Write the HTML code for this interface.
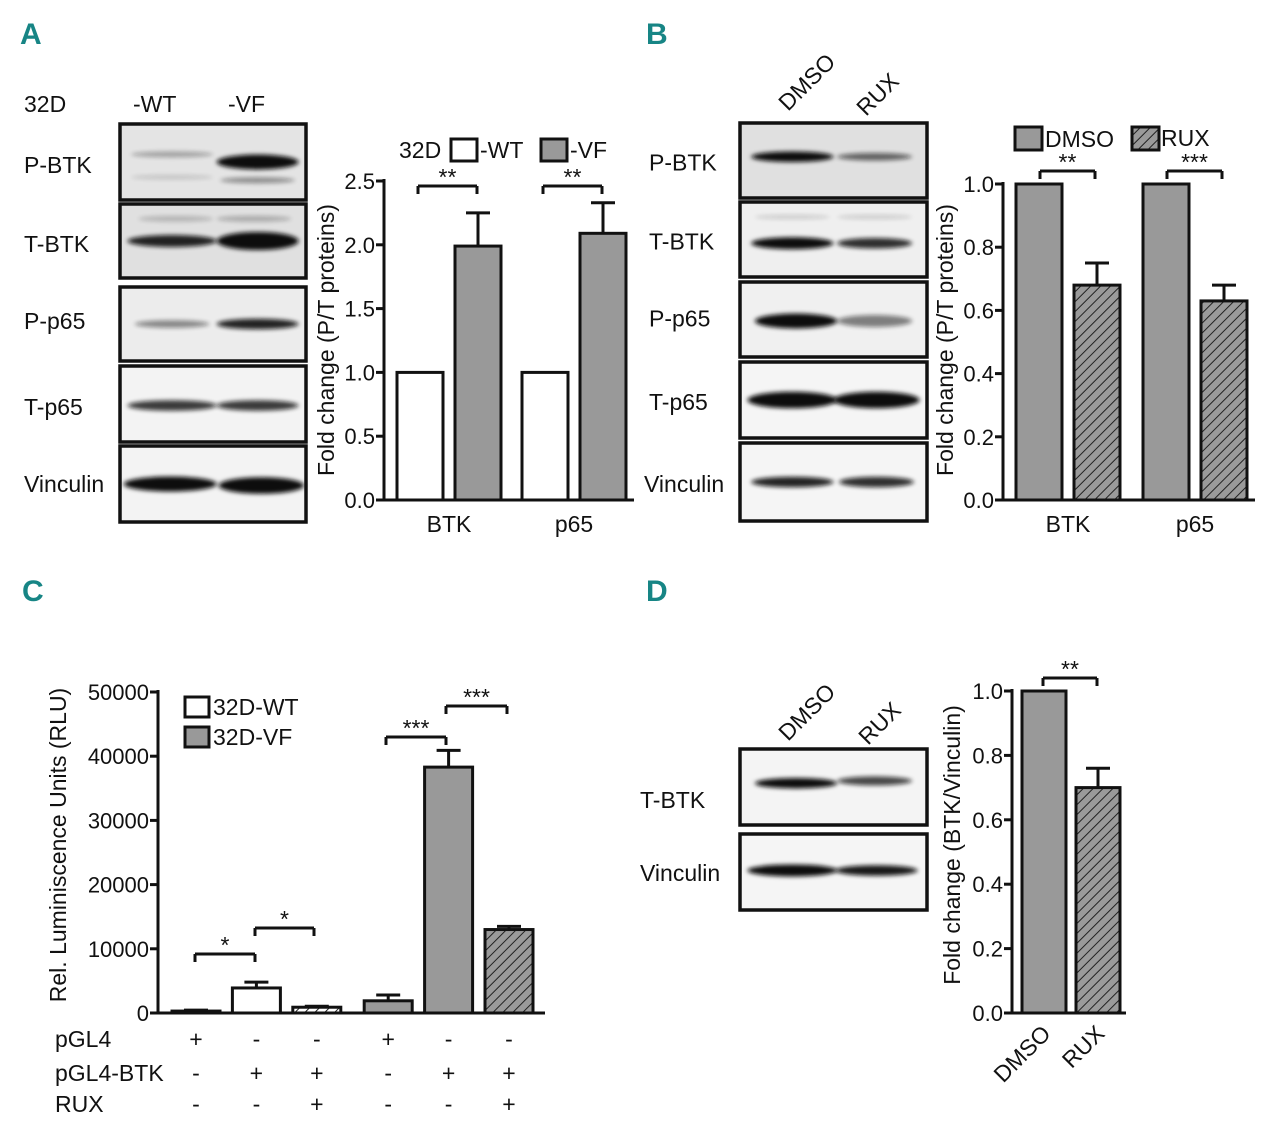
<!DOCTYPE html>
<html><head><meta charset="utf-8"><style>
body{margin:0;background:#fff}
svg{display:block;font-family:"Liberation Sans",sans-serif}
.t{font-size:23px;fill:#111}
.tk{font-size:22px;fill:#111}
.pl{font-family:"Liberation Sans",sans-serif;font-weight:bold;font-size:30px;fill:#178585}
</style></head><body>
<svg id="fig" width="1280" height="1131" viewBox="0 0 1280 1131">
<defs>
<pattern id="hatch" patternUnits="userSpaceOnUse" width="7" height="7" patternTransform="rotate(45)">
<rect width="7" height="7" fill="#9a9a9a"/><line x1="0" y1="0" x2="0" y2="7" stroke="#222" stroke-width="2"/></pattern>
<pattern id="hatchw" patternUnits="userSpaceOnUse" width="7" height="7" patternTransform="rotate(45)">
<rect width="7" height="7" fill="#fff"/><line x1="0" y1="0" x2="0" y2="7" stroke="#222" stroke-width="2"/></pattern>
<filter id="blur" x="-20%" y="-100%" width="140%" height="300%"><feGaussianBlur stdDeviation="2.5 2.2"/></filter>
</defs>
<text class="pl" x="20" y="44">A</text>
<text class="pl" x="646" y="44">B</text>
<text class="pl" x="22" y="601">C</text>
<text class="pl" x="646" y="601">D</text>
<g id="root"></g>
</svg>
<script>
// ---- Panel A data ----
const aCategories = ["BTK", "p65"];
const aWT = [1.0, 1.0];
const aVF = [1.99, 2.09];
const aVFerr = [0.26, 0.24];
const aTicks = ["0.0","0.5","1.0","1.5","2.0","2.5"];
// ---- Panel B data ----
const bCategories = ["BTK", "p65"];
const bDMSO = [1.0, 1.0];
const bRUX = [0.68, 0.63];
const bRUXerr = [0.07, 0.05];
const bTicks = ["0.0","0.2","0.4","0.6","0.8","1.0"];
// ---- Panel C data ----
const cValues = [300, 3900, 900, 1900, 38300, 13000];
const cErr = [150, 900, 150, 900, 2600, 500];
const cTicks = ["0","10000","20000","30000","40000","50000"];
const cPGL4 = ["+","-","-","+","-","-"];
const cPGL4BTK = ["-","+","+","-","+","+"];
const cRUX = ["-","-","+","-","-","+"];
// ---- Panel D data ----
const dCategories = ["DMSO", "RUX"];
const dValues = [1.0, 0.70];
const dErr = [0, 0.06];
const dTicks = ["0.0","0.2","0.4","0.6","0.8","1.0"];

const NS="http://www.w3.org/2000/svg";
const root=document.getElementById('root');
function mk(tag,attrs,parent,text){const e=document.createElementNS(NS,tag);for(const k in attrs)e.setAttribute(k,attrs[k]);if(text!==undefined)e.textContent=text;(parent||root).appendChild(e);return e;}
function txt(x,y,s,cls,anchor,rot,name){const e=mk('text',{x:x,y:y,class:cls||'t','text-anchor':anchor||'start'},root,s);if(rot)e.setAttribute('transform','rotate('+rot+' '+x+' '+y+')');


return e;}
function line(x1,y1,x2,y2,w){return mk('line',{x1:x1,y1:y1,x2:x2,y2:y2,stroke:'#111','stroke-width':w||3});}
function yAxis(x,yTop,yBot,xEnd,ticks,vmax,name){
  const g=mk('g',{});
  
  
  mk('line',{x1:x,y1:yTop-2,x2:x,y2:yBot,stroke:'#111','stroke-width':3},g);
  mk('line',{x1:x-8,y1:yBot,x2:xEnd,y2:yBot,stroke:'#111','stroke-width':3},g);
  ticks.forEach((t,i)=>{const y=yBot-(yBot-yTop)*parseFloat(t)/vmax;
    mk('line',{x1:x-8,y1:y,x2:x,y2:y,stroke:'#111','stroke-width':3},g);
    const e=mk('text',{x:x-9,y:y+8,class:'tk','text-anchor':'end'},g,t);
    
    });
  return v=>yBot-(yBot-yTop)*v/vmax;
}
function bar(x,w,yv,y0,fill,err,ys,name){
  const r=mk('rect',{x:x,y:yv,width:w,height:y0-yv,fill:fill,stroke:'#111','stroke-width':3});
  
  
  if(err>0){line(x+w/2,yv,x+w/2,ys,3);line(x+w/2-12,ys,x+w/2+12,ys,3);}
}
function sig(x1,x2,y,stars){line(x1,y,x2,y,3);line(x1,y,x1,y+8,3);line(x2,y,x2,y+8,3);
  txt((x1+x2)/2,y-1,stars,'t','middle',0,'significance-stars');}
function blot(x,y,w,h,bg,bands,name){
  const g=mk('g',{});
  
  
  mk('rect',{x:x,y:y,width:w,height:h,fill:bg},g);
  bands.forEach(b=>{mk('ellipse',{cx:x+w*b[0],cy:y+h*b[1],rx:w*b[2],ry:b[3]*1.5,fill:'#111',opacity:b[4],filter:'url(#blur)'},g);});
  mk('rect',{x:x,y:y,width:w,height:h,fill:'none',stroke:'#111','stroke-width':3.5},g);
}
// ===== Panel A blots =====
txt(24,112,'32D','t','start',0,'blot-header-32d');txt(133,112,'-WT','t','start',0,'lane-wt');txt(228,112,'-VF','t','start',0,'lane-vf');
const aB=[['P-BTK',124,76,'#e4e4e4',[[0.28,0.4,0.22,2,0.3],[0.74,0.5,0.22,5,1],[0.74,0.74,0.2,2,0.4],[0.28,0.7,0.22,1.5,0.15]]],
['T-BTK',204,74,'#e0e0e0',[[0.28,0.5,0.24,4,0.9],[0.74,0.5,0.22,6,1],[0.3,0.2,0.2,2,0.2],[0.72,0.2,0.2,2,0.25]]],
['P-p65',287,74,'#ececec',[[0.28,0.5,0.2,2.5,0.45],[0.74,0.5,0.22,3.5,0.9]]],
['T-p65',366,76,'#f3f3f3',[[0.28,0.52,0.24,3.5,0.8],[0.74,0.52,0.22,3.5,0.8]]],
['Vinculin',446,76,'#f3f3f3',[[0.27,0.5,0.25,5,1],[0.76,0.52,0.23,5.5,1]]]];
aB.forEach(b=>{blot(120,b[1],186,b[2],b[3],b[4],'blot-a-'+b[0].toLowerCase());txt(24,b[1]+b[2]/2+11+(b[0]==='Vinculin'?-3:0)+(b[0]==='P-p65'?-6:0),b[0],'t','start',0,'blot-label');});
// ===== Panel A chart =====
(function(){const yA=yAxis(384,181,500,634,aTicks,2.5,'y-axis-a');
 aCategories.forEach((c,i)=>{const gx=397+i*125;
  bar(gx,46,yA(aWT[i]),500,'#fff',0,0,'bar-a-wt-'+c);
  bar(gx+58,46,yA(aVF[i]),500,'#999',aVFerr[i],yA(aVF[i]+aVFerr[i]),'bar-a-vf-'+c);
  txt(gx+52,532,c,'t','middle',0,'x-tick-label');
  sig(gx+21,gx+80,186,'**');});
 txt(334,340,'Fold change (P/T proteins)','t','middle',-90,'y-axis-title-a');
 txt(399,158,'32D','t','start',0,'legend-title');
 mk('rect',{x:451,y:139,width:26,height:22,fill:'#fff',stroke:'#111','stroke-width':3});txt(480,158,'-WT','t','start',0,'legend-entry-wt');
 mk('rect',{x:541,y:139,width:26,height:22,fill:'#999',stroke:'#111','stroke-width':3});txt(570,158,'-VF','t','start',0,'legend-entry-vf');
})();
// ===== Panel B blots =====
txt(788,112,'DMSO','t','start',-45,'lane-dmso');txt(866,117,'RUX','t','start',-45,'lane-rux');
const bB=[['P-BTK',123,75,'#e0e0e0',[[0.28,0.45,0.22,3.5,1],[0.72,0.45,0.2,2.5,0.6]]],
['T-BTK',202,75,'#efefef',[[0.28,0.55,0.22,4,1],[0.72,0.55,0.2,3.5,0.85],[0.28,0.2,0.2,1.5,0.15],[0.72,0.2,0.2,1.5,0.15]]],
['P-p65',282,75,'#f0f0f0',[[0.3,0.52,0.22,5,1],[0.72,0.52,0.2,4,0.5]]],
['T-p65',362,76,'#f5f5f5',[[0.28,0.5,0.24,5.5,1],[0.73,0.5,0.23,5.5,1]]],
['Vinculin',443,78,'#f5f5f5',[[0.28,0.5,0.22,3.5,0.9],[0.73,0.5,0.2,3.5,0.85]]]];
bB.forEach(b=>{blot(740,b[1],187,b[2],b[3],b[4],'blot-b-'+b[0].toLowerCase());txt(b[0]==='Vinculin'?644:649,b[1]+b[2]/2+10+(b[0]==='P-p65'?-3:0),b[0],'t','start',0,'blot-label');});
// ===== Panel B chart =====
(function(){const yB=yAxis(1003,184,500,1255,bTicks,1.0,'y-axis-b');
 bCategories.forEach((c,i)=>{const gx=1016+i*127;
  bar(gx,46,yB(bDMSO[i]),500,'#999',0,0,'bar-b-dmso-'+c);
  bar(gx+58,46,yB(bRUX[i]),500,'url(#hatch)',bRUXerr[i],yB(bRUX[i]+bRUXerr[i]),'bar-b-rux-'+c);
  txt(gx+52,532,c,'t','middle',0,'x-tick-label');
  sig(gx+24,gx+79,171,i===0?'**':'***');});
 txt(953,340,'Fold change (P/T proteins)','t','middle',-90,'y-axis-title-b');
 mk('rect',{x:1015,y:127,width:27,height:23,fill:'#999',stroke:'#111','stroke-width':3});txt(1045,147,'DMSO','t','start',0,'legend-entry-dmso');
 mk('rect',{x:1132,y:127,width:27,height:23,fill:'url(#hatch)',stroke:'#111','stroke-width':3});txt(1161,146,'RUX','t','start',0,'legend-entry-rux');
})();
// ===== Panel C chart =====
(function(){const yC=yAxis(158,692,1013,545,cTicks,50000,'y-axis-c');
 cValues.forEach((v,i)=>{const x=172+i*60.4+(i>=3?11:0);
  const fill=i<3?(i===2?'url(#hatchw)':'#fff'):(i===5?'url(#hatch)':'#999');
  bar(x,48,yC(v),1013,fill,cErr[i],yC(v+cErr[i]),'bar-c-'+i);
  txt(x+24,1047,cPGL4[i],'t','middle',0,'pgl4-sign');
  txt(x+24,1081,cPGL4BTK[i],'t','middle',0,'pgl4-btk-sign');
  txt(x+24,1112,cRUX[i],'t','middle',0,'rux-sign');});
 sig(195,255,954,'*');sig(255,314,928,'*');sig(386,446,737,'***');sig(446,507,706,'***');
 txt(66,845,'Rel. Luminiscence Units (RLU)','t','middle',-90,'y-axis-title-c');
 txt(55,1047,'pGL4','t','start',0,'row-label-pgl4');txt(55,1081,'pGL4-BTK','t','start',0,'row-label-pgl4-btk');txt(55,1112,'RUX','t','start',0,'row-label-rux');
 mk('rect',{x:185,y:697,width:24,height:20,fill:'#fff',stroke:'#111','stroke-width':3});txt(213,715,'32D-WT','t','start',0,'legend-entry-wt');
 mk('rect',{x:185,y:727,width:24,height:20,fill:'#999',stroke:'#111','stroke-width':3});txt(213,745,'32D-VF','t','start',0,'legend-entry-vf');
})();
// ===== Panel D =====
txt(788,742,'DMSO','t','start',-45,'lane-dmso');txt(868,746,'RUX','t','start',-45,'lane-rux');
blot(740,749,187,76,'#f4f4f4',[[0.3,0.45,0.22,3.5,1],[0.72,0.42,0.2,3,0.75]],'blot-d-t-btk');
blot(740,834,187,76,'#f5f5f5',[[0.28,0.48,0.24,4,1],[0.73,0.48,0.22,3.5,0.95]],'blot-d-vinculin');
txt(640,808,'T-BTK','t','start',0,'blot-label');txt(640,881,'Vinculin','t','start',0,'blot-label');
(function(){const yD=yAxis(1012,691,1013,1126,dTicks,1.0,'y-axis-d');
 dCategories.forEach((c,i)=>{const x=1022+i*54;
  bar(x,44,yD(dValues[i]),1013,i===0?'#999':'url(#hatch)',dErr[i],yD(dValues[i]+dErr[i]),'bar-d-'+c);
  txt(x+30,1035,c,'t','end',-45,'x-tick-label');});
 sig(1043,1097,678,'**');
 txt(960,845,'Fold change (BTK/Vinculin)','t','middle',-90,'y-axis-title-d');
})();
</script>
</body></html>
